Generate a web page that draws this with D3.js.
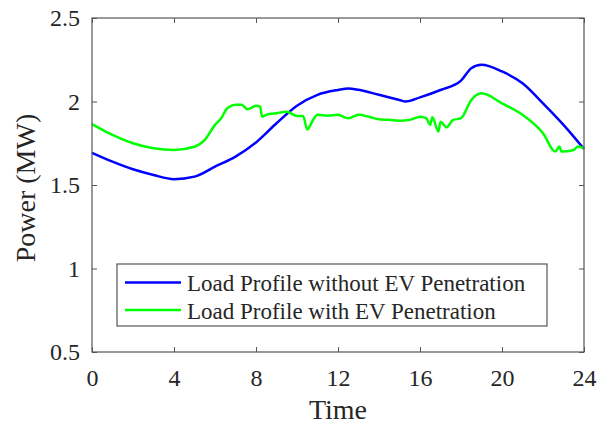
<!DOCTYPE html>
<html>
<head>
<meta charset="utf-8">
<script src="https://cdn.jsdelivr.net/npm/d3@7"></script>
<style>
  body { margin: 0; background: #fff; }
  svg text { font-family: "Liberation Serif", "Times New Roman", serif; fill: #262626; }
</style>
</head>
<body>
<svg id="chart" width="610" height="426"></svg>
<script>
// load without EV
const baseTime = [0, 1, 2, 3, 4, 5, 6, 7, 8, 9, 10, 11, 12, 12.5, 13, 14, 15, 15.3, 16, 17, 18, 18.5, 19, 20, 21, 22, 23, 24];
const baseLoad = [1.693, 1.64, 1.594, 1.56, 1.535, 1.55, 1.61, 1.67, 1.755, 1.87, 1.975, 2.04, 2.069, 2.078, 2.07, 2.04, 2.009, 2.0, 2.025, 2.069, 2.125, 2.199, 2.22, 2.18, 2.109, 1.989, 1.86, 1.716];

// load with EV
const evTime = [0, 1, 2, 3, 4, 5, 5.5, 6, 6.3, 6.6, 7, 7.3, 7.6, 8, 8.2, 8.3, 8.5, 9, 9.5, 10, 10.3, 10.5, 10.8, 11, 11.5, 12, 12.5, 13, 13.5, 14, 14.5, 15, 15.5, 16, 16.3, 16.5, 16.6, 16.9, 17, 17.3, 17.6, 18, 18.5, 19, 20, 21, 22, 22.6, 22.8, 22.9, 23.5, 23.7, 24];
const evLoad = [1.865, 1.80, 1.75, 1.72, 1.71, 1.729, 1.77, 1.86, 1.90, 1.96, 1.98, 1.98, 1.953, 1.975, 1.969, 1.909, 1.92, 1.93, 1.939, 1.913, 1.913, 1.833, 1.893, 1.92, 1.915, 1.92, 1.90, 1.92, 1.909, 1.893, 1.89, 1.885, 1.89, 1.909, 1.90, 1.86, 1.905, 1.82, 1.879, 1.845, 1.889, 1.90, 2.009, 2.049, 1.989, 1.92, 1.81, 1.70, 1.73, 1.70, 1.71, 1.73, 1.72];

const xTicks = [0, 4, 8, 12, 16, 20, 24];
const yTicks = [0.5, 1, 1.5, 2, 2.5];
const seriesNames = ["Load Profile without EV Penetration", "Load Profile with EV Penetration"];
const seriesColors = ["#0000ff", "#00ff00"];

const plotLeft = 92, plotRight = 584, plotTop = 18, plotBottom = 352;
const svg = d3.select("#chart");

const x = d3.scaleLinear().domain([0, 24]).range([plotLeft, plotRight]);
const y = d3.scaleLinear().domain([0.5, 2.5]).range([plotBottom, plotTop]);

// ticks pointing inward on all four sides
const tickLen = 5;
const axisColor = "#555";

svg.append("g")
   .attr("transform", `translate(0,${plotBottom})`)
   .call(d3.axisBottom(x).tickValues(xTicks).tickSizeInner(-tickLen).tickSizeOuter(0).tickPadding(17))
   .call(g => g.select(".domain").remove())
   .call(g => g.selectAll("line").attr("stroke", axisColor))
   .call(g => g.selectAll("text").attr("font-size", "24px").attr("font-family", "Liberation Serif").attr("fill", "#262626"));

svg.append("g")
   .attr("transform", `translate(0,${plotTop})`)
   .call(d3.axisTop(x).tickValues(xTicks).tickSizeInner(-tickLen).tickSizeOuter(0).tickFormat(""))
   .call(g => g.select(".domain").remove())
   .call(g => g.selectAll("line").attr("stroke", axisColor));

svg.append("g")
   .attr("transform", `translate(${plotLeft},0)`)
   .call(d3.axisLeft(y).tickValues(yTicks).tickSizeInner(-tickLen).tickSizeOuter(0).tickPadding(12).tickFormat(d3.format("")))
   .call(g => g.select(".domain").remove())
   .call(g => g.selectAll("line").attr("stroke", axisColor))
   .call(g => g.selectAll("text").attr("font-size", "24px").attr("font-family", "Liberation Serif").attr("fill", "#262626"));

svg.append("g")
   .attr("transform", `translate(${plotRight},0)`)
   .call(d3.axisRight(y).tickValues(yTicks).tickSizeInner(-tickLen).tickSizeOuter(0).tickFormat(""))
   .call(g => g.select(".domain").remove())
   .call(g => g.selectAll("line").attr("stroke", axisColor));

// lines
const line = d3.line().x(d => x(d[0])).y(d => y(d[1])).curve(d3.curveMonotoneX);
const series = [d3.zip(baseTime, baseLoad), d3.zip(evTime, evLoad)];

svg.selectAll("path.series")
   .data(series)
   .enter()
   .append("path")
   .attr("class", "series")
   .attr("d", line)
   .attr("fill", "none")
   .attr("stroke", (d, i) => seriesColors[i])
   .attr("stroke-width", 2.5)
   .attr("stroke-linejoin", "round");

// box
svg.append("rect")
   .attr("x", plotLeft).attr("y", plotTop)
   .attr("width", plotRight - plotLeft).attr("height", plotBottom - plotTop)
   .attr("fill", "none").attr("stroke", axisColor).attr("stroke-width", 1.2);

// legend
const legend = svg.append("g");
legend.append("rect")
      .attr("x", 117).attr("y", 264)
      .attr("width", 430).attr("height", 62)
      .attr("fill", "#fff").attr("stroke", axisColor).attr("stroke-width", 1.2);

seriesNames.forEach((name, i) => {
    const ly = 282.5 + i * 27.5;
    legend.append("line")
          .attr("x1", 125).attr("x2", 181)
          .attr("y1", ly).attr("y2", ly)
          .attr("stroke", seriesColors[i]).attr("stroke-width", 2.5);
    legend.append("text")
          .attr("x", 187).attr("y", ly + 8.5)
          .attr("font-size", "23px")
          .text(name);
});

// axis labels
svg.append("text")
   .attr("x", 338).attr("y", 419)
   .attr("text-anchor", "middle")
   .attr("font-size", "28px")
   .text("Time");

svg.append("text")
   .attr("transform", "translate(35,188) rotate(-90)")
   .attr("text-anchor", "middle")
   .attr("font-size", "28px")
   .text("Power (MW)");
</script>
</body>
</html>
